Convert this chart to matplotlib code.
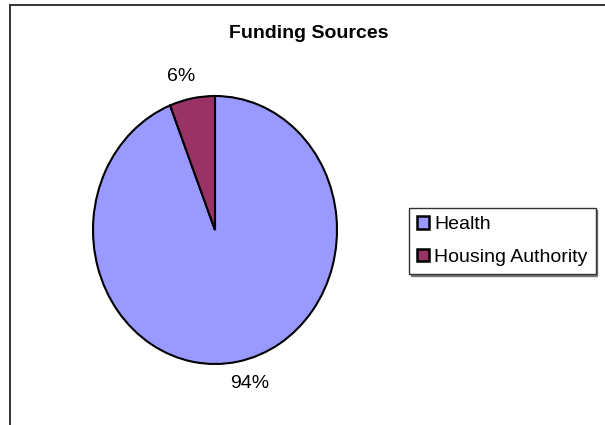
import numpy as np
import matplotlib.pyplot as plt
from matplotlib.lines import Line2D
from matplotlib.patches import Patch

sources = ["Health", "Housing Authority"]
shares = [94, 6]
colors = ["#9999FF", "#993366"]

W, H = 605, 425

plt.rcParams["font.family"] = ["Liberation Sans", "DejaVu Sans"]

fig = plt.figure(figsize=(W / 100, H / 100), dpi=100)


def fx(px):
    return px / W


def fy(py):
    return 1 - py / H


# outer chart frame (runs off the right and bottom)
fig.add_artist(Line2D([fx(10), fx(10)], [fy(5), 0], color="#333333", lw=1.4))
fig.add_artist(Line2D([fx(10), 1], [fy(5), fy(5)], color="#333333", lw=1.4))

fig.text(fx(309), fy(33), "Funding Sources", ha="center", va="center",
         fontsize=14, fontweight="bold")

# pie box in pixels: slightly taller than wide
left, right, top, bottom = 93, 337, 96, 364
ax = fig.add_axes([fx(left), fy(bottom), (right - left) / W, (bottom - top) / H])
wedges, _, autotexts = ax.pie(shares, colors=colors, startangle=90, counterclock=False,
                              autopct="%1.0f%%", pctdistance=1.18,
                              wedgeprops=dict(edgecolor="black", linewidth=1.5),
                              textprops=dict(fontsize=14))
ax.set_aspect("auto")
ax.set_xlim(-1, 1)
ax.set_ylim(-1, 1)

# percentage labels sit a little anticlockwise of each slice's middle
for w, t in zip(wedges, autotexts):
    mid = np.deg2rad((w.theta1 + w.theta2) / 2 + 3)
    t.set_position((1.18 * np.cos(mid), 1.18 * np.sin(mid)))
    t.set_clip_on(False)

handles = [Patch(facecolor=c, edgecolor="black", linewidth=1.8) for c in colors]
leg = fig.legend(handles, sources, loc="upper left",
                 bbox_to_anchor=(fx(409), fy(208)), fontsize=14,
                 frameon=True, fancybox=False, handlelength=0.62, handleheight=0.62,
                 handletextpad=0.25, borderpad=0.42, labelspacing=0.8,
                 borderaxespad=0,
                 shadow={"ox": 1.2, "oy": -1.2, "color": "#777777", "alpha": 1})
leg.get_frame().set_edgecolor("#333333")
leg.get_frame().set_linewidth(1.0)

fig.savefig("out.png", dpi=100)
